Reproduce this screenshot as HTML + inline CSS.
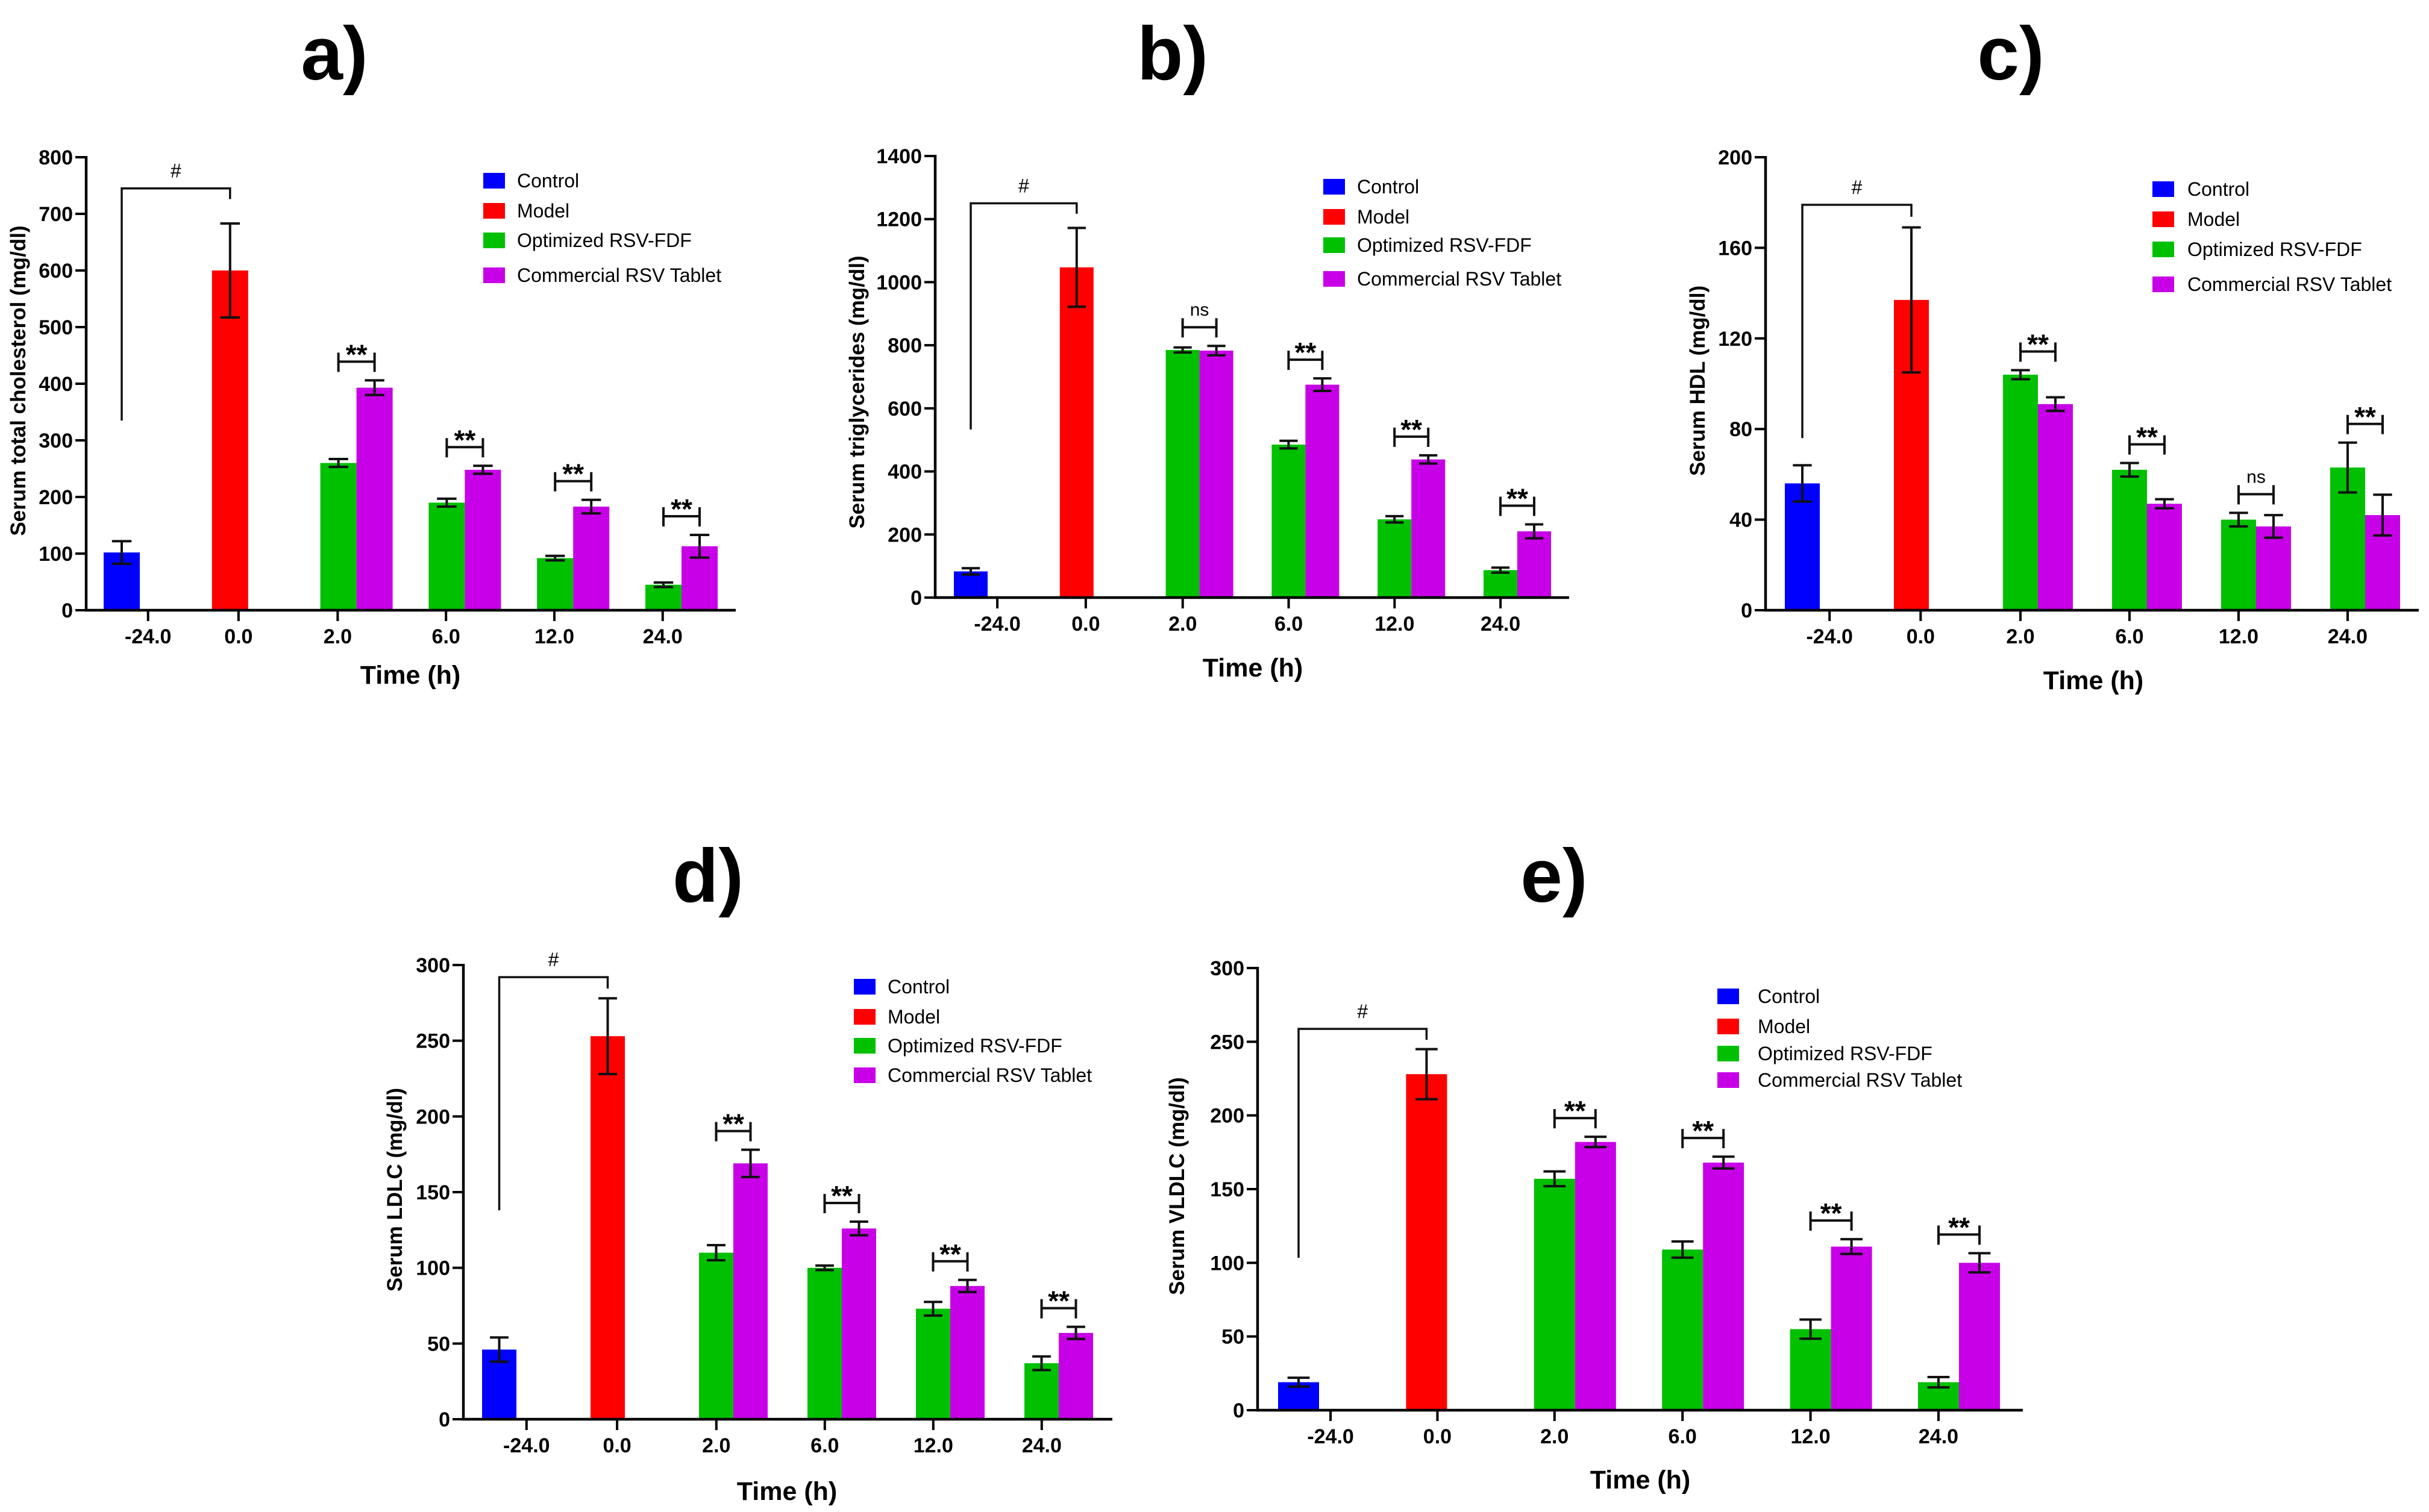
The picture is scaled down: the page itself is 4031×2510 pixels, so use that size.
<!DOCTYPE html>
<html><head><meta charset="utf-8"><style>
html,body{margin:0;padding:0;background:#fff;}
svg{display:block;font-family:"Liberation Sans",Arial,sans-serif;}
</style></head>
<body>
<svg id="fig" width="4031" height="2510" viewBox="0 0 4031 2510" xmlns="http://www.w3.org/2000/svg">
<rect x="0" y="0" width="4031" height="2510" fill="#ffffff"/>
</svg>
<script>
// ---- data ----
const categories = ['-24.0','0.0','2.0','6.0','12.0','24.0'];
const seriesNames = ['Control','Model','Optimized RSV-FDF','Commercial RSV Tablet'];

// a) total cholesterol
const tcControl = [102, 20];
const tcModel = [600, 83];
const tcOpt = [260, 190, 92, 45];
const tcOptErr = [7, 7, 4, 4];
const tcCom = [393, 248, 183, 113];
const tcComErr = [13, 7, 12, 20];
const tcTicks = [0,100,200,300,400,500,600,700,800];
const tcSig = ['**','**','**','**'];
const tcHash = [745, 335, 726];

// b) triglycerides
const tgControl = [83, 10];
const tgModel = [1047, 125];
const tgOpt = [785, 485, 248, 87];
const tgOptErr = [8, 12, 10, 8];
const tgCom = [783, 675, 438, 210];
const tgComErr = [15, 20, 13, 22];
const tgTicks = [0,200,400,600,800,1000,1200,1400];
const tgSig = ['ns','**','**','**'];
const tgHash = [1250, 533, 1217];

// c) HDL
const hdlControl = [56, 8];
const hdlModel = [137, 32];
const hdlOpt = [104, 62, 40, 63];
const hdlOptErr = [2, 3, 3, 11];
const hdlCom = [91, 47, 37, 42];
const hdlComErr = [3, 2, 5, 9];
const hdlTicks = [0,40,80,120,160,200];
const hdlSig = ['**','**','ns','**'];
const hdlHash = [179, 76, 173.7];

// d) LDLC
const ldlControl = [46, 8];
const ldlModel = [253, 25];
const ldlOpt = [110, 100, 73, 37];
const ldlOptErr = [5, 1.5, 4.5, 4.5];
const ldlCom = [169, 126, 88, 57];
const ldlComErr = [9, 4.5, 4, 4];
const ldlTicks = [0,50,100,150,200,250,300];
const ldlSig = ['**','**','**','**'];
const ldlHash = [292, 138, 284.5];

// e) VLDLC
const vldlControl = [19, 3];
const vldlModel = [228, 17];
const vldlOpt = [157, 109, 55, 19];
const vldlOptErr = [5, 5.5, 6.5, 3.5];
const vldlCom = [182, 168, 111, 100];
const vldlComErr = [3.5, 4, 5, 6.5];
const vldlTicks = [0,50,100,150,200,250,300];
const vldlSig = ['**','**','**','**'];
const vldlHash = [258.7, 103.4, 251.3];

// ---- layout ----
const COLORS = ['#0000ff','#ff0000','#00c000','#c800e8'];
const TICKFRAC = [0.41,0.245,0.16,0.16,0.16,0.16];
const svg = document.getElementById('fig');
const NS = 'http://www.w3.org/2000/svg';
function mk(tag, attrs, parent){
  const e = document.createElementNS(NS, tag);
  for (const k in attrs) e.setAttribute(k, attrs[k]);
  (parent||svg).appendChild(e);
  return e;
}

function drawPanel(L, d){
  const g = mk('g', {});
  
  
  const ymax = d.ticks[d.ticks.length-1];
  const yS = v => L.y0 - v / ymax * (L.y0 - L.yTop);
  const gx = i => L.g0 + i * L.step;

  // title
  const t = mk('text', {x:L.title[0], y:L.title[1], 'font-size':125, 'font-weight':'bold', 'text-anchor':'middle', fill:'#000'}, g);
  t.textContent = L.label;
  
  

  // bars
  function bar(x, v, err, color, name){
    const r = mk('rect', {x:x, y:yS(v), width:L.bw, height:L.y0 - yS(v), fill:color}, g);
    
    
    const cx = x + L.bw/2, cw = L.bw*0.27;
    const e = mk('path', {d:`M${cx},${yS(v+err)}V${yS(v-err)}M${cx-cw},${yS(v+err)}H${cx+cw}M${cx-cw},${yS(v-err)}H${cx+cw}`, stroke:'#111', 'stroke-width':4, fill:'none'}, g);
    
    
  }
  bar(gx(0), d.ctrl[0], d.ctrl[1], COLORS[0], 'bar-control');
  bar(gx(1), d.model[0], d.model[1], COLORS[1], 'bar-model');
  for (let i=0;i<d.opt.length;i++){
    bar(gx(i+2), d.opt[i], d.optErr[i], COLORS[2], 'bar-optimized-' + categories[i+2]);
    bar(gx(i+2)+L.bw, d.com[i], d.comErr[i], COLORS[3], 'bar-commercial-' + categories[i+2]);
    // significance bracket
    const x1 = gx(i+2) + L.bw/2, x2 = x1 + L.bw;
    const yb = Math.min(yS(d.opt[i]+d.optErr[i]), yS(d.com[i]+d.comErr[i])) - 31;
    const br = mk('path', {d:`M${x1},${yb-15}V${yb+17}M${x2},${yb-15}V${yb+17}M${x1},${yb}H${x2}`, stroke:'#111', 'stroke-width':4, fill:'none'}, g);
    
    
    const st = d.sig[i];
    const tx = mk('text', st === 'ns'
      ? {x:(x1+x2)/2, y:yb-19, 'font-size':30, 'text-anchor':'middle', fill:'#000'}
      : {x:(x1+x2)/2, y:yb+4, 'font-size':46, 'font-weight':'bold', 'text-anchor':'middle', fill:'#000'}, g);
    tx.textContent = st;
    
    
  }
  // hash bracket
  const hx1 = gx(0)+L.bw/2, hx2 = gx(1)+L.bw/2;
  const hb = mk('path', {d:`M${hx1},${yS(d.hash[1])}V${yS(d.hash[0])}H${hx2}V${yS(d.hash[2])}`, stroke:'#111', 'stroke-width':3.5, fill:'none'}, g);
  
  
  const ht = mk('text', {x:(hx1+hx2)/2, y:yS(d.hash[0])-18, 'font-size':32, 'text-anchor':'middle', fill:'#000'}, g);
  ht.textContent = '#';
  
  

  // axes
  const ax = mk('path', {d:`M${L.ax},${L.yTop-2}V${L.y0}H${L.xEnd}`, stroke:'#000', 'stroke-width':4.5, fill:'none'}, g);
  
  
  for (const v of d.ticks){
    const y = yS(v);
    const tk = mk('line', {x1:L.ax-18, x2:L.ax, y1:y, y2:y, stroke:'#000', 'stroke-width':4}, g);
    
    
    const tl = mk('text', {x:L.ax-22, y:y+12, 'font-size':34, 'font-weight':'bold', 'text-anchor':'end', fill:'#000'}, g);
    tl.textContent = v;
    
    
  }
  for (let i=0;i<categories.length;i++){
    const x = gx(i) + TICKFRAC[i]*L.step;
    const tk = mk('line', {x1:x, x2:x, y1:L.y0, y2:L.y0+18, stroke:'#000', 'stroke-width':4}, g);
    
    
    const tl = mk('text', {x:x, y:L.y0+55, 'font-size':34, 'font-weight':'bold', 'text-anchor':'middle', fill:'#000'}, g);
    tl.textContent = categories[i];
    
    
  }
  const xt = mk('text', {x:L.xtitle[0], y:L.xtitle[1], 'font-size':43, 'font-weight':'bold', 'text-anchor':'middle', fill:'#000'}, g);
  xt.textContent = 'Time (h)';
  
  
  const yt = mk('text', {x:0, y:0, 'font-size':35, 'font-weight':'bold', 'text-anchor':'middle', fill:'#000', transform:`translate(${L.ytitle[0]+12},${L.ytitle[1]}) rotate(-90)`}, g);
  yt.textContent = L.ylabel;
  
  

  // legend
  for (let k=0;k<4;k++){
    const cy = L.legY[k];
    const sw = mk('rect', {x:L.legX, y:cy-13, width:36, height:26, fill:COLORS[k]}, g);
    
    
    const lt = mk('text', {x:L.legTx, y:cy+11, 'font-size':32, fill:'#000'}, g);
    lt.textContent = seriesNames[k];
    
    
  }
}

drawPanel({key:'a', label:'a)', title:[555,132], ax:143, yTop:261, y0:1013, xEnd:1221, g0:172, step:179.8, bw:60,
  legX:802, legY:[300,350,399,457], legTx:858, ytitle:[30,632], xtitle:[681,1135], ylabel:'Serum total cholesterol (mg/dl)'},
  {ctrl:tcControl, model:tcModel, opt:tcOpt, optErr:tcOptErr, com:tcCom, comErr:tcComErr, ticks:tcTicks, sig:tcSig, hash:tcHash});
drawPanel({key:'b', label:'b)', title:[1946,132], ax:1552, yTop:259, y0:992, xEnd:2604, g0:1583, step:175.8, bw:56,
  legX:2196, legY:[310,360,407,463], legTx:2252, ytitle:[1422,651], xtitle:[2079,1123], ylabel:'Serum triglycerides (mg/dl)'},
  {ctrl:tgControl, model:tgModel, opt:tgOpt, optErr:tgOptErr, com:tgCom, comErr:tgComErr, ticks:tgTicks, sig:tgSig, hash:tgHash});
drawPanel({key:'c', label:'c)', title:[3337,132], ax:2930, yTop:261, y0:1013, xEnd:4014, g0:2962, step:181, bw:58,
  legX:3572, legY:[314,364,414,472], legTx:3630, ytitle:[2817,632], xtitle:[3474,1144], ylabel:'Serum HDL (mg/dl)'},
  {ctrl:hdlControl, model:hdlModel, opt:hdlOpt, optErr:hdlOptErr, com:hdlCom, comErr:hdlComErr, ticks:hdlTicks, sig:hdlSig, hash:hdlHash});
drawPanel({key:'d', label:'d)', title:[1175,1497], ax:769, yTop:1602, y0:2356, xEnd:1846, g0:800, step:180, bw:57,
  legX:1417, legY:[1638,1688,1736,1785], legTx:1473, ytitle:[655,1975], xtitle:[1306,2490], ylabel:'Serum LDLC (mg/dl)'},
  {ctrl:ldlControl, model:ldlModel, opt:ldlOpt, optErr:ldlOptErr, com:ldlCom, comErr:ldlComErr, ticks:ldlTicks, sig:ldlSig, hash:ldlHash});
drawPanel({key:'e', label:'e)', title:[2579,1497], ax:2087, yTop:1607, y0:2341, xEnd:3357, g0:2121, step:212.4, bw:68,
  legX:2850, legY:[1654,1704,1749,1793], legTx:2917, ytitle:[1953,1969], xtitle:[2722,2471], ylabel:'Serum VLDLC (mg/dl)'},
  {ctrl:vldlControl, model:vldlModel, opt:vldlOpt, optErr:vldlOptErr, com:vldlCom, comErr:vldlComErr, ticks:vldlTicks, sig:vldlSig, hash:vldlHash});
</script>
</body></html>
